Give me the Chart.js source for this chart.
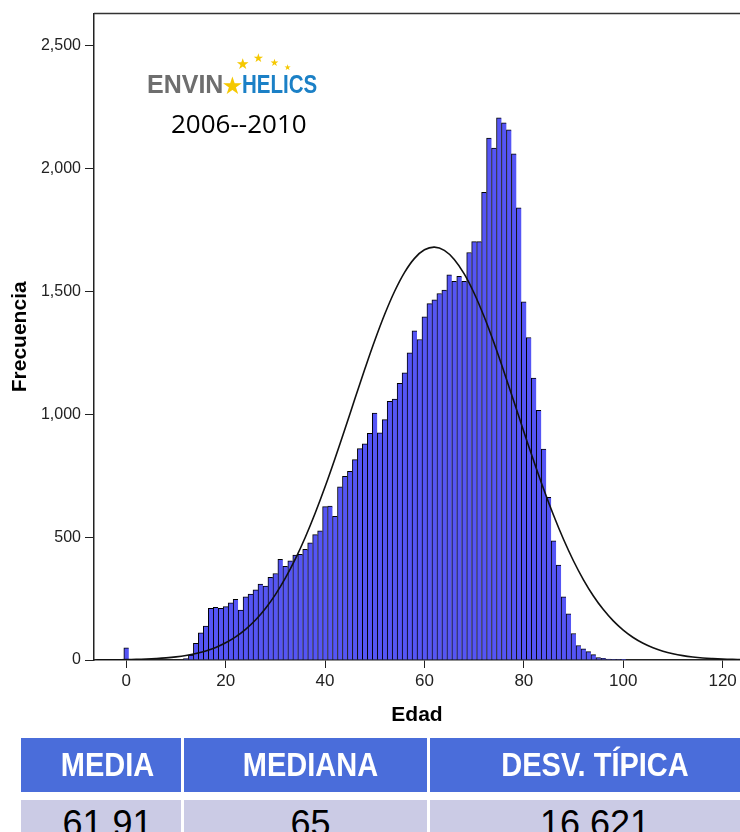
<!DOCTYPE html>
<html>
<head>
    <meta charset="UTF-8">
    <title>Edad - ENVIN HELICS</title>
    <script src="https://cdn.jsdelivr.net/npm/chart.js"></script>
    <style>
        body {
            margin: 0;
            background: #fff;
            font-family: "Liberation Sans", Arial, sans-serif;
        }
        #pagina {
            position: relative;
            width: 740px;
            height: 832px;
            overflow: hidden;
            background: #fff;
        }
        #grafico {
            position: absolute;
            left: 0;
            top: 0;
        }
        #logo {
            position: absolute;
            left: 147px;
            top: 72px;
            font-weight: bold;
            font-size: 25px;
            line-height: 25px;
            white-space: nowrap;
        }
        #logo .envin { color: #6e6e6e; }
        #logo .helics {
            color: #1b80c6;
            display: inline-block;
            transform: scaleX(0.82);
            transform-origin: left center;
        }
        .estrella {
            position: absolute;
            color: #f5c800;
            line-height: 1;
        }
        #periodo {
            position: absolute;
            left: 171px;
            top: 110px;
            font-family: "Open Sans", sans-serif;
            font-size: 26px;
            line-height: 26px;
            color: #000;
        }
        .celda {
            position: absolute;
            text-align: center;
            white-space: nowrap;
            box-sizing: border-box;
        }
        .cabecera {
            top: 738px;
            height: 54px;
            line-height: 54px;
            background: #4a6dda;
            color: #fff;
            font-weight: bold;
            font-size: 29px;
        }
        .cabecera span {
            display: inline-block;
            transform: scaleY(1.12);
        }
        .valor {
            top: 800px;
            height: 60px;
            line-height: 48px;
            background: #cbcbe5;
            color: #000;
            font-size: 36px;
        }
    </style>
</head>
<body>
<div id="pagina">
    <canvas id="grafico" width="740" height="735"></canvas>

    <div id="logo"><span class="envin">ENVIN</span><span style="color:#f5c800;font-size:21px;">★</span><span class="helics">HELICS</span></div>
    <span class="estrella" style="left:236px;top:56px;font-size:15px;">★</span>
    <span class="estrella" style="left:253px;top:52px;font-size:12px;">★</span>
    <span class="estrella" style="left:270px;top:58px;font-size:10px;">★</span>
    <span class="estrella" style="left:284px;top:64px;font-size:8px;">★</span>
    <div id="periodo">2006--2010</div>

    <div class="celda cabecera" style="left:21px;width:160px;padding-left:13px;"><span>MEDIA</span></div>
    <div class="celda cabecera" style="left:184px;width:243px;padding-left:10px;"><span>MEDIANA</span></div>
    <div class="celda cabecera" style="left:430px;width:320px;padding-left:10px;"><span>DESV. TÍPICA</span></div>
    <div class="celda valor" style="left:21px;width:160px;padding-left:13px;">61.91</div>
    <div class="celda valor" style="left:184px;width:243px;padding-left:10px;">65</div>
    <div class="celda valor" style="left:430px;width:320px;padding-left:10px;">16.621</div>
</div>

<script>
    // edades (intervalos de 1 año) y frecuencia de cada una
    const edades = [
        0, 1, 2, 3, 4, 5, 6, 7, 8, 9,
        10, 11, 12, 13, 14, 15, 16, 17, 18, 19,
        20, 21, 22, 23, 24, 25, 26, 27, 28, 29,
        30, 31, 32, 33, 34, 35, 36, 37, 38, 39,
        40, 41, 42, 43, 44, 45, 46, 47, 48, 49,
        50, 51, 52, 53, 54, 55, 56, 57, 58, 59,
        60, 61, 62, 63, 64, 65, 66, 67, 68, 69,
        70, 71, 72, 73, 74, 75, 76, 77, 78, 79,
        80, 81, 82, 83, 84, 85, 86, 87, 88, 89,
        90, 91, 92, 93, 94, 95, 96, 97, 98, 99,
        100
    ];
    const frecuencias = [
        50, 0, 0, 0, 0, 0, 0, 0, 0, 0,
        0, 0, 6, 20, 68, 111, 138, 210, 214, 210,
        217, 233, 247, 203, 257, 268, 285, 309, 301, 336,
        352, 410, 381, 404, 427, 430, 450, 477, 510, 526,
        624, 626, 585, 705, 747, 768, 815, 860, 880, 922,
        1005, 924, 978, 1052, 1062, 1126, 1168, 1250, 1339, 1304,
        1396, 1450, 1465, 1491, 1505, 1567, 1541, 1561, 1541, 1658,
        1702, 1702, 1903, 2124, 2083, 2206, 2186, 2157, 2059, 1840,
        1457, 1312, 1147, 1016, 858, 662, 485, 386, 257, 188,
        108, 59, 45, 34, 22, 10, 7, 4, 3, 2,
        1
    ];

    // curva normal
    const curvaX = [
        -6, -4, -2, 0, 2, 4, 6, 8, 10, 12, 14, 16, 18, 20, 22, 24, 26, 28, 30, 32,
        34, 36, 38, 40, 42, 44, 46, 48, 50, 52, 54, 56, 58, 60, 62, 64, 66, 68, 70, 72,
        74, 76, 78, 80, 82, 84, 86, 88, 90, 92, 94, 96, 98, 100, 102, 104, 106, 108, 110, 112,
        114, 116, 118, 120, 122, 124
    ];
    const curvaY = [
        0.4, 0.7, 1, 1.6, 2.5, 3.9, 5.9, 8.7, 12.8, 18.5, 26.4, 37, 51.2, 69.9, 94, 124.6, 162.8, 209.6, 266, 332.8,
        410.2, 498.4, 597, 704.6, 819.8, 940.2, 1062.6, 1183.6, 1299.6, 1406.5, 1500.2, 1577.1, 1634.2, 1668.9, 1680, 1666.8, 1629.9, 1570.9, 1492.3, 1397.3,
        1289.5, 1172.9, 1051.5, 929.1, 809.2, 694.6, 587.7, 490.1, 402.8, 326.3, 260.5, 205, 159, 121.6, 91.6, 68, 49.8, 35.9, 25.6, 17.9,
        12.4, 8.4, 5.7, 3.7, 2.4, 1.6
    ];

    const ticksY = [0, 500, 1000, 1500, 2000, 2500];
    const ticksX = [0, 20, 40, 60, 80, 100, 120];

    // linea superior del marco
    const marco = {
        id: 'marco',
        afterDraw(chart) {
            const a = chart.chartArea;
            const ctx = chart.ctx;
            ctx.save();
            ctx.strokeStyle = '#333';
            ctx.lineWidth = 1.5;
            ctx.beginPath();
            ctx.moveTo(a.left, a.top);
            ctx.lineTo(a.right, a.top);
            ctx.stroke();
            ctx.restore();
        }
    };

    const ctx = document.getElementById('grafico').getContext('2d');
    new Chart(ctx, {
        type: 'bar',
        data: {
            datasets: [
                {
                    type: 'line',
                    data: curvaX.map((x, i) => ({ x: x, y: curvaY[i] })),
                    borderColor: '#111',
                    borderWidth: 1.6,
                    pointRadius: 0,
                    tension: 0.4,
                    fill: false,
                    order: 1
                },
                {
                    type: 'bar',
                    data: edades.map((e, i) => ({ x: e, y: frecuencias[i] })),
                    backgroundColor: '#5555f5',
                    borderColor: '#000',
                    borderWidth: { top: 1, left: 1, right: 0, bottom: 0 },
                    borderSkipped: false,
                    barPercentage: 1,
                    categoryPercentage: 1,
                    order: 2
                }
            ]
        },
        options: {
            responsive: false,
            animation: false,
            events: [],
            layout: { padding: { top: 13, left: 0, right: 0, bottom: 0 } },
            plugins: {
                legend: { display: false },
                tooltip: { enabled: false }
            },
            scales: {
                x: {
                    type: 'linear',
                    min: -6.5,
                    max: 123.5,
                    offset: false,
                    afterBuildTicks: (s) => { s.ticks = ticksX.map(v => ({ value: v })); },
                    afterFit: (s) => { s.height = 75; },
                    ticks: {
                        font: { family: 'Liberation Sans', size: 17 },
                        color: '#222',
                        padding: 3,
                        maxRotation: 0
                    },
                    grid: {
                        offset: false,
                        drawOnChartArea: false,
                        drawTicks: true,
                        tickLength: 8,
                        color: '#222'
                    },
                    border: { color: '#222', width: 1.5 },
                    title: {
                        display: true,
                        text: 'Edad',
                        font: { family: 'Liberation Sans', size: 21, weight: 'bold' },
                        color: '#000',
                        padding: { top: 4, bottom: 7 }
                    }
                },
                y: {
                    min: 0,
                    max: 2630,
                    afterBuildTicks: (s) => { s.ticks = ticksY.map(v => ({ value: v })); },
                    afterFit: (s) => { s.width = 94; },
                    ticks: {
                        font: { family: 'Liberation Sans', size: 16 },
                        color: '#222',
                        padding: 4,
                        callback: (v) => v.toLocaleString('en-US')
                    },
                    grid: {
                        drawOnChartArea: false,
                        drawTicks: true,
                        tickLength: 9,
                        color: '#222'
                    },
                    border: { color: '#222', width: 1.5 },
                    title: {
                        display: true,
                        text: 'Frecuencia',
                        font: { family: 'Liberation Sans', size: 21, weight: 'bold' },
                        color: '#000',
                        padding: { top: 8, bottom: 4 }
                    }
                }
            }
        },
        plugins: [marco]
    });
</script>
</body>
</html>
